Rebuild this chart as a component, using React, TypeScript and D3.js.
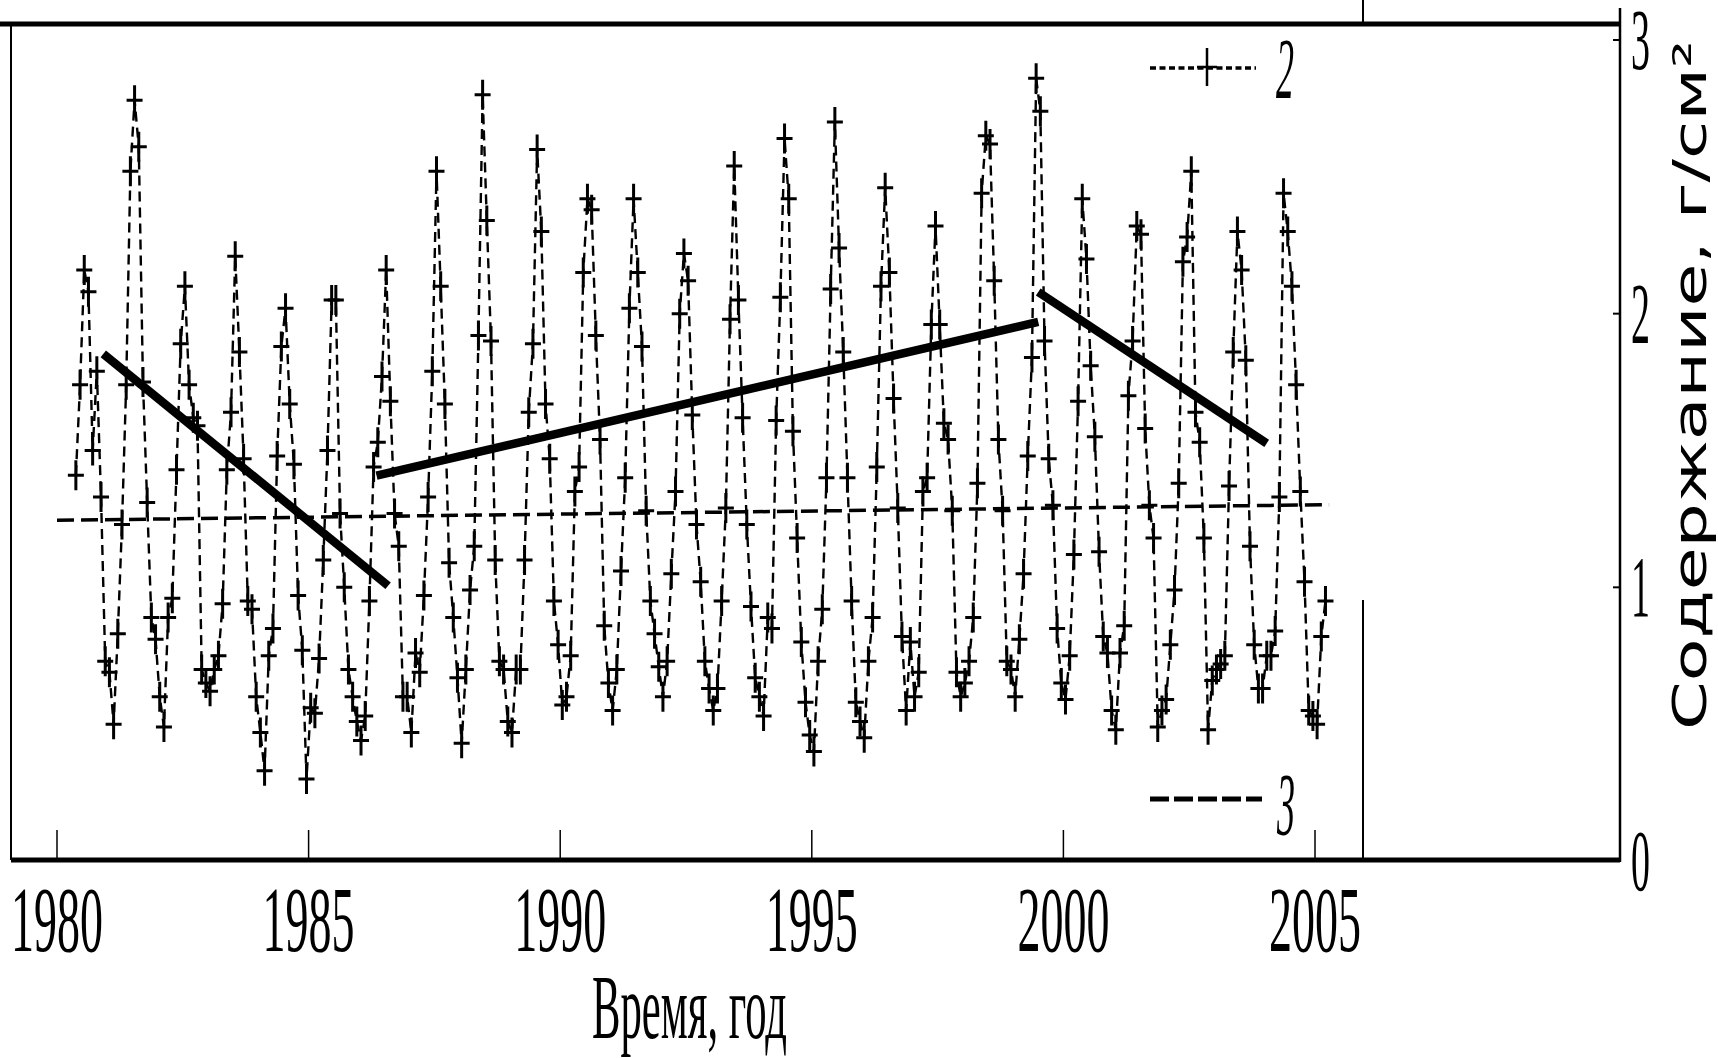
import React from 'react';
import * as d3 from 'd3';

// ---- data (monthly values, Jan..Dec; null = no observation) ----
const years = [1980, 1981, 1982, 1983, 1984, 1985, 1986, 1987, 1988, 1989, 1990, 1991, 1992,
  1993, 1994, 1995, 1996, 1997, 1998, 1999, 2000, 2001, 2002, 2003, 2004, 2005];

const v1980 = [null, null, null, null, 1.41, 1.74, 2.16, 2.08, 1.50, 1.79, 1.33, 0.73];
const v1981 = [0.69, 0.50, 0.83, 1.23, 1.74, 2.52, 2.78, 2.61, 1.75, 1.31, 0.89, 0.81];
const v1982 = [0.60, 0.49, 0.89, 0.96, 1.43, 1.89, 2.10, 1.74, 1.62, 1.59, 0.70, 0.65];
const v1983 = [0.62, 0.70, 0.75, 0.94, 1.43, 1.64, 2.21, 1.86, 1.47, 0.95, 0.92, 0.60];
const v1984 = [0.47, 0.33, 0.75, 0.85, 1.48, 1.88, 2.02, 1.67, 1.45, 0.97, 0.77, 0.30];
const v1985 = [0.56, 0.54, 0.74, 1.10, 1.50, 2.05, 2.05, 1.27, 1.00, 0.70, 0.60, 0.51];
const v1986 = [0.44, 0.53, 0.95, 1.44, 1.53, 1.77, 2.16, 1.68, 1.27, 1.15, 0.60, 0.60];
const v1987 = [0.47, 0.76, 0.69, 0.97, 1.33, 1.79, 2.52, 2.10, 1.67, 1.09, 0.89, 0.67];
const v1988 = [0.43, 0.70, 0.99, 1.15, 1.92, 2.80, 2.34, 1.90, 1.10, 0.73, 0.70, 0.51];
const v1989 = [0.47, 0.70, 0.70, 1.10, 1.64, 1.89, 2.60, 2.30, 1.67, 1.47, 0.95, 0.79];
const v1990 = [0.57, 0.60, 0.75, 1.35, 1.44, 2.15, 2.42, 2.38, 1.92, 1.54, 0.86, 0.65];
const v1991 = [0.55, 0.70, 1.06, 1.40, 2.02, 2.42, 2.15, 1.88, 1.28, 0.95, 0.83, 0.71];
const v1992 = [0.60, 0.73, 1.05, 1.35, 2.00, 2.22, 2.12, 1.63, 1.23, 1.02, 0.73, 0.63];
const v1993 = [0.55, 0.63, 0.95, 1.29, 1.98, 2.54, 2.05, 1.62, 1.23, 0.93, 0.67, 0.60];
const v1994 = [0.53, 0.89, 0.85, 1.61, 2.06, 2.64, 2.42, 1.57, 1.18, 0.80, 0.58, 0.46];
const v1995 = [0.40, 0.73, 0.92, 1.40, 2.09, 2.70, 2.24, 1.86, 1.40, 0.95, 0.58, 0.51];
const v1996 = [0.45, 0.73, 0.89, 1.44, 2.10, 2.46, 2.15, 1.69, 1.29, 0.82, 0.55, 0.80];
const v1997 = [0.60, 0.69, 1.35, 1.40, 1.96, 2.32, 1.96, 1.60, 1.54, 1.28, 0.69, 0.60];
const v1998 = [0.65, 0.73, 0.89, 1.38, 2.44, 2.65, 2.62, 2.12, 1.54, 1.28, 0.73, 0.70];
const v1999 = [0.60, 0.81, 1.05, 1.48, 1.84, 2.86, 2.74, 1.90, 1.47, 1.30, 0.85, 0.65];
const v2000 = [0.59, 0.75, 1.12, 1.68, 2.42, 2.20, 1.81, 1.55, 1.13, 0.82, 0.76, 0.55];
const v2001 = [0.48, 0.76, 0.86, 1.70, 1.90, 2.32, 2.29, 1.58, 1.30, 1.18, 0.49, 0.55];
const v2002 = [0.59, 0.79, 0.99, 1.38, 2.19, 2.28, 2.52, 1.64, 1.53, 1.18, 0.48, 0.66];
const v2003 = [0.70, 0.72, 0.75, 1.37, 1.86, 2.30, 2.16, 1.83, 1.15, 0.79, 0.63, 0.63];
const v2004 = [0.75, 0.75, 0.84, 1.33, 2.44, 2.30, 2.10, 1.74, 1.35, 1.02, 0.55, 0.53];
const v2005 = [0.50, 0.82, 0.95, null, null, null, null, null, null, null, null, null];

const monthly = [v1980, v1981, v1982, v1983, v1984, v1985, v1986, v1987, v1988, v1989, v1990,
  v1991, v1992, v1993, v1994, v1995, v1996, v1997, v1998, v1999, v2000, v2001, v2002, v2003,
  v2004, v2005];

// piecewise trend lines (thick solid)
const trendStartYear = [1980.92, 1986.35, 1999.50];
const trendStartVal = [1.853, 1.408, 2.079];
const trendEndYear = [1986.58, 1999.50, 2004.04];
const trendEndVal = [1.006, 1.970, 1.526];

// overall linear trend (dashed, "3")
const meanYears = [1980.0, 2005.28];
const meanVals = [1.245, 1.302];

const xTicks = [1980, 1985, 1990, 1995, 2000, 2005];
const yTicks = [0, 1, 2, 3];
const xTitle = 'Время, год';
const yTitle = 'Содержание, г/см²';

const W = 1718;
const H = 1058;

export default function App() {
  const x = d3.scaleLinear().domain([1980, 2005]).range([57, 1315]);
  const y = d3.scaleLinear().domain([0, 3]).range([861, 40]);

  const points: { t: number; v: number }[] = [];
  monthly.forEach((arr, i) => {
    arr.forEach((v, m) => {
      if (v !== null && v !== undefined) points.push({ t: years[i] + (m + 0.5) / 12, v: v as number });
    });
  });

  const line = d3.line<{ t: number; v: number }>().x(d => x(d.t)).y(d => y(d.v));

  const cross = (cx: number, cy: number, hw: number, hh: number) =>
    `M${cx - hw},${cy}H${cx + hw}M${cx},${cy - hh}V${cy + hh}`;

  const frameLeft = 11;
  const frameTop = 24;
  const frameBottom = 860;
  const innerRight = 1363;
  const axisRight = 1620;

  return (
    <svg width={W} height={H} style={{ position: 'absolute', left: 0, top: 0, background: '#fff' }}>
      <rect x={0} y={0} width={W} height={H} fill="#fff" />
      {/* frame */}
      <line x1={0} x2={axisRight} y1={frameTop} y2={frameTop} stroke="#000" strokeWidth={5} />
      <line x1={frameLeft} x2={axisRight} y1={frameBottom} y2={frameBottom} stroke="#000" strokeWidth={5} />
      <line x1={frameLeft} x2={frameLeft} y1={frameTop} y2={frameBottom} stroke="#000" strokeWidth={2} />
      <line x1={innerRight} x2={innerRight} y1={0} y2={frameTop} stroke="#000" strokeWidth={2} />
      <line x1={innerRight} x2={innerRight} y1={600} y2={frameBottom} stroke="#000" strokeWidth={2} />
      <line x1={axisRight} x2={axisRight} y1={8} y2={frameBottom + 2} stroke="#000" strokeWidth={2.5} />
      {yTicks.filter(t => t > 0).map(t => (
        <line key={'yt' + t} x1={axisRight - 7} x2={axisRight} y1={y(t)} y2={y(t)} stroke="#000" strokeWidth={2} />
      ))}
      {xTicks.map(t => (
        <line key={'xt' + t} x1={x(t)} x2={x(t)} y1={frameBottom - 30} y2={frameBottom} stroke="#000" strokeWidth={1.5} />
      ))}

      {/* series 2: dashed line with crosses */}
      <path d={line(points) || ''} fill="none" stroke="#000" strokeWidth={2.4} strokeDasharray="10,6" />
      {points.map((p, i) => (
        <path key={'c' + i} d={cross(x(p.t), y(p.v), 8, 15)} stroke="#000" strokeWidth={3} fill="none" />
      ))}

      {/* overall trend, 3 */}
      <line x1={x(meanYears[0])} x2={x(meanYears[1])} y1={y(meanVals[0])} y2={y(meanVals[1])}
        stroke="#000" strokeWidth={3.5} strokeDasharray="17,7" />

      {/* piecewise trends */}
      {trendStartYear.map((t0, i) => (
        <line key={'tr' + i} x1={x(t0)} y1={y(trendStartVal[i])} x2={x(trendEndYear[i])} y2={y(trendEndVal[i])}
          stroke="#000" strokeWidth={8.5} />
      ))}

      {/* legend */}
      <line x1={1150} x2={1256} y1={68} y2={68} stroke="#000" strokeWidth={3.5} strokeDasharray="6,3.5" />
      <path d={cross(1207, 67, 10, 19)} stroke="#000" strokeWidth={2.5} fill="none" />
      <text x={1285} y={98} fontFamily="Liberation Serif" fontStyle="italic" fontSize={86}
        textLength={18} lengthAdjust="spacingAndGlyphs" textAnchor="middle">2</text>
      <line x1={1150} x2={1262} y1={799} y2={799} stroke="#000" strokeWidth={5} strokeDasharray="19,5" />
      <text x={1286} y={834} fontFamily="Liberation Serif" fontStyle="italic" fontSize={88}
        textLength={18} lengthAdjust="spacingAndGlyphs" textAnchor="middle">3</text>

      {/* x tick labels */}
      {xTicks.map(t => (
        <text key={'xl' + t} x={x(t) - 46} y={951} fontFamily="Liberation Serif" fontSize={94}
          textLength={92} lengthAdjust="spacingAndGlyphs">{String(t)}</text>
      ))}
      <text x={592} y={1038} fontFamily="Liberation Serif" fontSize={92}
        textLength={195} lengthAdjust="spacingAndGlyphs">{xTitle}</text>

      {/* right y tick labels */}
      {yTicks.map(t => (
        <text key={'yl' + t} x={1631} y={y(t) + 29} fontFamily="Liberation Serif" fontSize={86}
          textLength={19} lengthAdjust="spacingAndGlyphs">{String(t)}</text>
      ))}
      <text transform={`translate(1706,730) rotate(-90)`} x={0} y={0} fontFamily="DejaVu Sans" fontSize={46}
        textLength={690} lengthAdjust="spacingAndGlyphs">{yTitle}</text>
    </svg>
  );
}
